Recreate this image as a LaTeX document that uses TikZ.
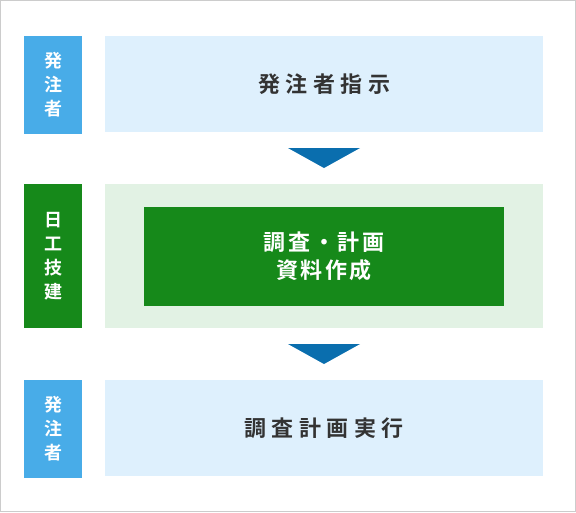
\documentclass[tikz,border=0pt]{standalone}
\usepackage{fontspec}
\setmainfont{Noto Sans CJK JP}[BoldFont={Noto Sans CJK JP Bold}]
\newfontfamily\stepfont{Noto Sans CJK JP Bold}[LetterSpace=25]
\newfontfamily\planfont{Noto Sans CJK JP Bold}[LetterSpace=12]
\usetikzlibrary{positioning}

\definecolor{sideblue}{HTML}{48ACE8}
\definecolor{paleblue}{HTML}{DEF0FD}
\definecolor{sidegreen}{HTML}{16891A}
\definecolor{palegreen}{HTML}{E2F2E4}
\definecolor{arrowblue}{HTML}{0A6EAE}
\definecolor{textgray}{HTML}{333333}
\definecolor{framegray}{HTML}{CCCCCC}

\begin{document}
\begin{tikzpicture}[
    x=1pt, y=-1pt,
    every node/.style={inner sep=0pt, outer sep=0pt},
    sidebox/.style={minimum width=58pt, align=center, text=white,
        font=\fontsize{18}{24}\selectfont\bfseries},
    stepbox/.style={minimum width=438pt, minimum height=96pt, align=center,
        text=textgray, font=\fontsize{22}{28}\selectfont\stepfont},
    downarrow/.style={fill=arrowblue}
]
\useasboundingbox (0,0) rectangle (576,512);
\draw[framegray, line width=1pt] (0.5,0.5) rectangle (575.5,511.5);

% left column
\node[sidebox, fill=sideblue, minimum height=98pt, anchor=north west] (order1) at (24,36) {発\\注\\者};
\node[sidebox, fill=sidegreen, minimum height=144pt, below=50pt of order1] (nikko) {日\\工\\技\\建};
\node[sidebox, fill=sideblue, minimum height=98pt, below=52pt of nikko] (order2) {発\\注\\者};

% steps
\node[stepbox, fill=paleblue, anchor=north west] (step1) at ([xshift=23pt]order1.north east) {発注者指示};
\node[stepbox, fill=palegreen, minimum height=144pt, anchor=north west] (step2) at ([xshift=23pt]nikko.north east) {};
\node[fill=sidegreen, minimum width=360pt, minimum height=99pt, align=center, text=white,
    font=\fontsize{22}{28}\selectfont\planfont] (plan) at (step2) {調査・計画\\資料作成};
\node[stepbox, fill=paleblue, anchor=north west] (step3) at ([xshift=23pt]order2.north east) {調査計画実行};

% arrows
\path (step1.south) -- coordinate[pos=.5] (gap1) (step2.north);
\path (step2.south) -- coordinate[pos=.5] (gap2) (step3.north);
\fill[downarrow, shift={(gap1)}] (-36,-10) -- (36,-10) -- (0,10) -- cycle;
\fill[downarrow, shift={(gap2)}] (-36,-10) -- (36,-10) -- (0,10) -- cycle;
\end{tikzpicture}
\end{document}
